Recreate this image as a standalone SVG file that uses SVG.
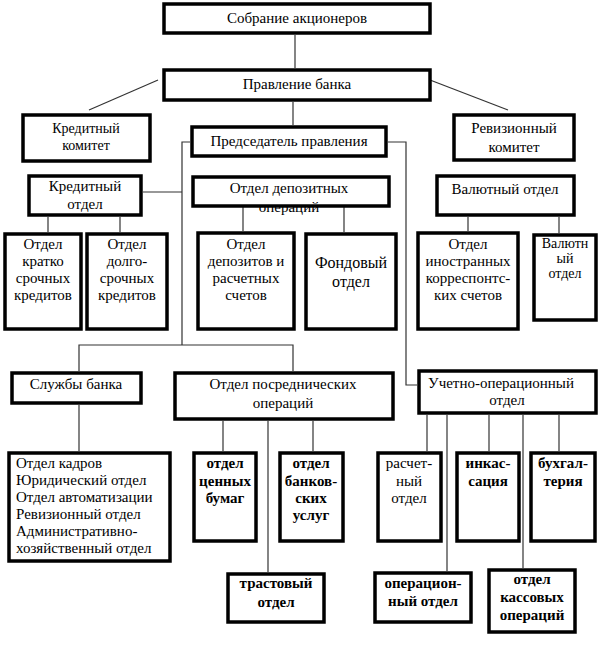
<svg xmlns="http://www.w3.org/2000/svg" width="600" height="664" viewBox="0 0 600 664">
<defs>
<rect id="bx" width="1" height="1"/>
</defs>
<rect width="600" height="664" fill="#fff"/>
<g id="connectors" fill="none" stroke="#333" stroke-width="1.2">
<line x1="295" y1="35" x2="295" y2="68"/>
<line x1="158" y1="80" x2="89" y2="110"/>
<line x1="430" y1="80" x2="508" y2="110"/>
<line x1="293" y1="102" x2="293" y2="125"/>
<polyline points="190,142 182,142 182,345"/>
<line x1="143" y1="192" x2="182" y2="192"/>
<polyline points="79,371 79,345 293,345 293,371"/>
<polyline points="388,142 406,142 406,385 417,385"/>
<line x1="48" y1="217" x2="48" y2="232"/>
<line x1="120" y1="217" x2="120" y2="232"/>
<line x1="243" y1="203" x2="243" y2="231"/>
<line x1="344" y1="203" x2="344" y2="232"/>
<line x1="468" y1="217" x2="468" y2="231"/>
<line x1="559" y1="217" x2="559" y2="233"/>
<line x1="79" y1="405" x2="79" y2="451"/>
<line x1="223" y1="421" x2="223" y2="451"/>
<line x1="268" y1="421" x2="268" y2="572"/>
<line x1="313" y1="421" x2="313" y2="451"/>
<line x1="427" y1="415" x2="427" y2="451"/>
<line x1="447" y1="415" x2="447" y2="571"/>
<line x1="489" y1="415" x2="489" y2="451"/>
<line x1="523" y1="415" x2="523" y2="568"/>
<line x1="559" y1="415" x2="559" y2="451"/>
</g>
<g id="boxes" fill="#fff" stroke="#000" stroke-width="3.5">
<rect id="r-sobranie" x="164" y="4" width="266" height="29"/>
<rect id="r-pravlenie" x="164" y="70" width="266" height="30"/>
<rect id="r-kred-komitet" x="23" y="115" width="127" height="46"/>
<rect id="r-rev-komitet" x="454" y="115" width="120" height="45"/>
<rect id="r-predsedatel" x="192" y="127" width="194" height="29"/>
<rect id="r-kred-otdel" x="29" y="176" width="112" height="39"/>
<rect id="r-depozit" x="193" y="177" width="196" height="29"/>
<rect id="r-valyut-otdel" x="437" y="176" width="137" height="39"/>
<rect id="r-kratko" x="5" y="234" width="76" height="95"/>
<rect id="r-dolgo" x="87" y="234" width="80" height="95"/>
<rect id="r-depozitov" x="198" y="233" width="96" height="96"/>
<rect id="r-fondovy" x="306" y="234" width="90" height="95"/>
<rect id="r-inostr" x="418" y="233" width="100" height="96"/>
<rect id="r-valyutny" x="534" y="235" width="62" height="85"/>
<rect id="r-sluzhby" x="12" y="373" width="129" height="30"/>
<rect id="r-posrednich" x="175" y="373" width="218" height="46"/>
<rect id="r-uchetno" x="419" y="371" width="177" height="42"/>
<rect id="r-sluzhby-list" x="9" y="453" width="161" height="108"/>
<rect id="r-cennyh" x="194" y="453" width="62" height="88"/>
<rect id="r-bankovskih" x="280" y="453" width="63" height="88"/>
<rect id="r-trastovy" x="228" y="574" width="96" height="48"/>
<rect id="r-raschetny" x="378" y="453" width="63" height="88"/>
<rect id="r-inkass" x="457" y="453" width="62" height="88"/>
<rect id="r-buhg" x="531" y="453" width="64" height="88"/>
<rect id="r-operacion" x="375" y="573" width="96" height="49"/>
<rect id="r-kassovyh" x="489" y="570" width="86" height="62"/>
</g>
<g id="sobranie"><text font-family="Liberation Serif" font-size="15" text-anchor="middle" x="297" y="23">Собрание акционеров</text></g>
<g id="pravlenie"><text font-family="Liberation Serif" font-size="15" text-anchor="middle" x="297" y="89">Правление банка</text></g>
<g id="kred-komitet"><text font-family="Liberation Serif" font-size="14" text-anchor="middle" x="86" y="133">Кредитный</text><text font-family="Liberation Serif" font-size="14" text-anchor="middle" x="86" y="150">комитет</text></g>
<g id="rev-komitet"><text font-family="Liberation Serif" font-size="15" text-anchor="middle" x="514" y="133">Ревизионный</text><text font-family="Liberation Serif" font-size="15" text-anchor="middle" x="514" y="152">комитет</text></g>
<g id="predsedatel"><text font-family="Liberation Serif" font-size="15" text-anchor="middle" x="289" y="146">Председатель правления</text></g>
<g id="kred-otdel"><text font-family="Liberation Serif" font-size="15" text-anchor="middle" x="85" y="191">Кредитный</text><text font-family="Liberation Serif" font-size="15" text-anchor="middle" x="85" y="209">отдел</text></g>
<g id="depozit"><text font-family="Liberation Serif" font-size="15" text-anchor="middle" x="289" y="193">Отдел депозитных</text><text font-family="Liberation Serif" font-size="15" text-anchor="middle" x="289" y="212">операций</text></g>
<g id="valyut-otdel"><text font-family="Liberation Serif" font-size="15" text-anchor="middle" x="505" y="194">Валютный отдел</text></g>
<g id="kratko"><text font-family="Liberation Serif" font-size="15" text-anchor="middle" x="43" y="249">Отдел</text><text font-family="Liberation Serif" font-size="15" text-anchor="middle" x="43" y="266">кратко</text><text font-family="Liberation Serif" font-size="15" text-anchor="middle" x="43" y="283">срочных</text><text font-family="Liberation Serif" font-size="15" text-anchor="middle" x="43" y="300">кредитов</text></g>
<g id="dolgo"><text font-family="Liberation Serif" font-size="15" text-anchor="middle" x="127" y="249">Отдел</text><text font-family="Liberation Serif" font-size="15" text-anchor="middle" x="127" y="266">долго-</text><text font-family="Liberation Serif" font-size="15" text-anchor="middle" x="127" y="283">срочных</text><text font-family="Liberation Serif" font-size="15" text-anchor="middle" x="127" y="300">кредитов</text></g>
<g id="depozitov"><text font-family="Liberation Serif" font-size="15" text-anchor="middle" x="246" y="249">Отдел</text><text font-family="Liberation Serif" font-size="15" text-anchor="middle" x="246" y="266">депозитов и</text><text font-family="Liberation Serif" font-size="15" text-anchor="middle" x="246" y="283">расчетных</text><text font-family="Liberation Serif" font-size="15" text-anchor="middle" x="246" y="300">счетов</text></g>
<g id="fondovy"><text font-family="Liberation Serif" font-size="16" text-anchor="middle" x="351" y="268">Фондовый</text><text font-family="Liberation Serif" font-size="16" text-anchor="middle" x="351" y="287">отдел</text></g>
<g id="inostr"><text font-family="Liberation Serif" font-size="15" text-anchor="middle" x="468" y="249">Отдел</text><text font-family="Liberation Serif" font-size="15" text-anchor="middle" x="468" y="266">иностранных</text><text font-family="Liberation Serif" font-size="15" text-anchor="middle" x="468" y="283">корреспонтс-</text><text font-family="Liberation Serif" font-size="15" text-anchor="middle" x="468" y="300">ких счетов</text></g>
<g id="valyutny"><text font-family="Liberation Serif" font-size="14" text-anchor="middle" x="565" y="248">Валютн</text><text font-family="Liberation Serif" font-size="14" text-anchor="middle" x="565" y="263">ый</text><text font-family="Liberation Serif" font-size="14" text-anchor="middle" x="565" y="278">отдел</text></g>
<g id="sluzhby"><text font-family="Liberation Serif" font-size="15" text-anchor="middle" x="76" y="389">Службы банка</text></g>
<g id="posrednich"><text font-family="Liberation Serif" font-size="15" text-anchor="middle" x="283" y="389">Отдел посреднических</text><text font-family="Liberation Serif" font-size="15" text-anchor="middle" x="283" y="408">операций</text></g>
<g id="uchetno"><text font-family="Liberation Serif" font-size="15" text-anchor="middle" x="501" y="388">Учетно-операционный</text><text font-family="Liberation Serif" font-size="15" text-anchor="middle" x="507" y="405">отдел</text></g>
<g id="sluzhby-list"><text font-family="Liberation Serif" font-size="15" x="16" y="468">Отдел кадров</text><text font-family="Liberation Serif" font-size="15" x="16" y="485">Юридический отдел</text><text font-family="Liberation Serif" font-size="15" x="16" y="502">Отдел автоматизации</text><text font-family="Liberation Serif" font-size="15" x="16" y="519">Ревизионный отдел</text><text font-family="Liberation Serif" font-size="15" x="16" y="536">Административно-</text><text font-family="Liberation Serif" font-size="15" x="16" y="553">хозяйственный отдел</text></g>
<g id="cennyh"><text font-family="Liberation Serif" font-size="15" font-weight="bold" text-anchor="middle" x="225" y="468">отдел</text><text font-family="Liberation Serif" font-size="15" font-weight="bold" text-anchor="middle" x="225" y="486">ценных</text><text font-family="Liberation Serif" font-size="15" font-weight="bold" text-anchor="middle" x="225" y="503">бумаг</text></g>
<g id="bankovskih"><text font-family="Liberation Serif" font-size="15" font-weight="bold" text-anchor="middle" x="311" y="468">отдел</text><text font-family="Liberation Serif" font-size="15" font-weight="bold" text-anchor="middle" x="311" y="486">банков-</text><text font-family="Liberation Serif" font-size="15" font-weight="bold" text-anchor="middle" x="311" y="503">ских</text><text font-family="Liberation Serif" font-size="15" font-weight="bold" text-anchor="middle" x="311" y="520">услуг</text></g>
<g id="trastovy"><text font-family="Liberation Serif" font-size="15" font-weight="bold" text-anchor="middle" x="276" y="588">трастовый</text><text font-family="Liberation Serif" font-size="15" font-weight="bold" text-anchor="middle" x="276" y="607">отдел</text></g>
<g id="raschetny"><text font-family="Liberation Serif" font-size="15" text-anchor="middle" x="409" y="468">расчет-</text><text font-family="Liberation Serif" font-size="15" text-anchor="middle" x="409" y="486">ный</text><text font-family="Liberation Serif" font-size="15" text-anchor="middle" x="409" y="503">отдел</text></g>
<g id="inkass"><text font-family="Liberation Serif" font-size="15" font-weight="bold" text-anchor="middle" x="488" y="468">инкас-</text><text font-family="Liberation Serif" font-size="15" font-weight="bold" text-anchor="middle" x="488" y="486">сация</text></g>
<g id="buhg"><text font-family="Liberation Serif" font-size="15" font-weight="bold" text-anchor="middle" x="563" y="468">бухгал-</text><text font-family="Liberation Serif" font-size="15" font-weight="bold" text-anchor="middle" x="563" y="486">терия</text></g>
<g id="operacion"><text font-family="Liberation Serif" font-size="15" font-weight="bold" text-anchor="middle" x="423" y="588">операцион-</text><text font-family="Liberation Serif" font-size="15" font-weight="bold" text-anchor="middle" x="423" y="606">ный отдел</text></g>
<g id="kassovyh"><text font-family="Liberation Serif" font-size="15" font-weight="bold" text-anchor="middle" x="532" y="584">отдел</text><text font-family="Liberation Serif" font-size="15" font-weight="bold" text-anchor="middle" x="532" y="602">кассовых</text><text font-family="Liberation Serif" font-size="15" font-weight="bold" text-anchor="middle" x="532" y="620">операций</text></g>
</svg>
